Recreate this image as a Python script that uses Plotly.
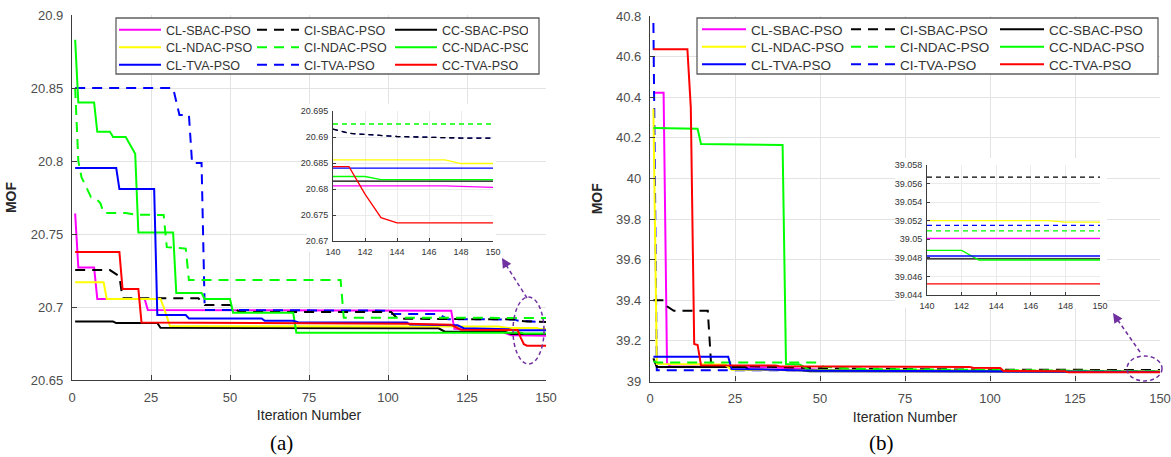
import plotly.graph_objects as go

W, H = 1171, 457

SERIES = ["CL-SBAC-PSO", "CI-SBAC-PSO", "CC-SBAC-PSO",
          "CL-NDAC-PSO", "CI-NDAC-PSO", "CC-NDAC-PSO",
          "CL-TVA-PSO", "CI-TVA-PSO", "CC-TVA-PSO"]

ITER_TICKS = [0, 25, 50, 75, 100, 125, 150]
INSET_X_TICKS = [140, 142, 144, 146, 148, 150]

A_Y_TICKS = [20.65, 20.7, 20.75, 20.8, 20.85, 20.9]
A_Y_TICK_TEXT = ["20.65", "20.7", "20.75", "20.8", "20.85", "20.9"]
A_INSET_Y_TICKS = [20.67, 20.675, 20.68, 20.685, 20.69, 20.695]
A_INSET_Y_TICK_TEXT = ["20.67", "20.675", "20.68", "20.685", "20.69", "20.695"]

B_Y_TICKS = [39.0, 39.2, 39.4, 39.6, 39.8, 40.0, 40.2, 40.4, 40.6, 40.8]
B_Y_TICK_TEXT = ["39", "39.2", "39.4", "39.6", "39.8", "40", "40.2", "40.4", "40.6", "40.8"]
B_INSET_Y_TICKS = [39.044, 39.046, 39.048, 39.05, 39.052, 39.054, 39.056, 39.058]
B_INSET_Y_TICK_TEXT = ["39.044", "39.046", "39.048", "39.05", "39.052", "39.054", "39.056", "39.058"]

# ---------------- Panel (a) data: iteration / MOF breakpoints ----------------
A_CL_SBAC_X = [1, 2, 7, 8, 23, 24, 120, 121, 135, 139, 140, 147, 150]
A_CL_SBAC_Y = [20.764, 20.727, 20.727, 20.7055, 20.7055, 20.698, 20.6975, 20.685, 20.684, 20.6806, 20.6806, 20.6806, 20.6803]
A_CI_SBAC_X = [1, 12, 15, 16, 40, 42, 50, 53, 101, 103, 140, 141, 144, 148, 150]
A_CI_SBAC_Y = [20.7253, 20.7253, 20.721, 20.706, 20.706, 20.7014, 20.7014, 20.6966, 20.6966, 20.692, 20.6915, 20.6907, 20.6901, 20.6898, 20.6898]
A_CC_SBAC_X = [1, 13, 14, 27, 28, 116, 118, 137, 139, 140, 150]
A_CC_SBAC_Y = [20.690, 20.690, 20.689, 20.689, 20.6858, 20.6854, 20.6831, 20.683, 20.6815, 20.6815, 20.6815]
A_CL_NDAC_X = [1, 10, 11, 28, 29, 31, 135, 138, 140, 147, 148, 150]
A_CL_NDAC_Y = [20.7169, 20.7169, 20.7055, 20.7055, 20.700, 20.687, 20.6866, 20.6856, 20.6856, 20.6856, 20.6849, 20.6849]
A_CI_NDAC_X = [1, 2, 3, 6, 8, 9, 10, 17, 20, 29, 30, 36, 37, 85, 86, 140, 150]
A_CI_NDAC_Y = [20.850, 20.800, 20.789, 20.7753, 20.7735, 20.771, 20.7644, 20.7644, 20.7633, 20.763, 20.741, 20.740, 20.7185, 20.7185, 20.6927, 20.6925, 20.6925]
A_CC_NDAC_X = [1, 2, 7, 8, 12, 13, 17, 20, 21, 32, 33, 41, 42, 50, 51, 70, 71, 140, 142, 143, 150]
A_CC_NDAC_Y = [20.883, 20.84, 20.84, 20.82, 20.82, 20.8165, 20.8165, 20.805, 20.751, 20.751, 20.7096, 20.7096, 20.7055, 20.7055, 20.696, 20.696, 20.6824, 20.6824, 20.6824, 20.6818, 20.6818]
A_CL_TVA_X = [1, 14, 15, 26, 27, 36, 37, 60, 61, 70, 72, 106, 107, 122, 124, 138, 140, 150]
A_CL_TVA_Y = [20.7952, 20.7952, 20.7808, 20.7808, 20.6945, 20.6945, 20.6922, 20.6922, 20.6906, 20.6906, 20.6893, 20.6893, 20.688, 20.6875, 20.6855, 20.6848, 20.684, 20.684]
A_CI_TVA_X = [1, 32, 34, 37, 38, 41, 42, 99, 101, 116, 119, 140, 141, 144, 148, 150]
A_CI_TVA_Y = [20.85, 20.85, 20.8315, 20.8315, 20.7986, 20.7986, 20.698, 20.6975, 20.6952, 20.6952, 20.6916, 20.6915, 20.6907, 20.6901, 20.6898, 20.6898]
A_CC_TVA_X = [1, 15, 16, 21, 22, 105, 106, 120, 123, 140, 141, 142, 143, 144, 150]
A_CC_TVA_Y = [20.7377, 20.7377, 20.7123, 20.7123, 20.6893, 20.6888, 20.6885, 20.6878, 20.6845, 20.6843, 20.6843, 20.679, 20.6745, 20.6735, 20.6735]

# ---------------- Panel (b) data ----------------
B_CL_SBAC_X = [1, 4, 5, 6, 35, 50, 100, 140, 150]
B_CL_SBAC_Y = [40.422, 40.422, 39.09, 39.075, 39.07, 39.058, 39.052, 39.0501, 39.0501]
B_CI_SBAC_X = [1, 4, 5, 7, 17, 18, 30, 50, 100, 140, 150]
B_CI_SBAC_Y = [39.40, 39.40, 39.37, 39.348, 39.348, 39.078, 39.075, 39.065, 39.058, 39.0567, 39.0567]
B_CC_SBAC_X = [1, 2, 28, 29, 44, 47, 100, 140, 150]
B_CC_SBAC_Y = [39.114, 39.072, 39.072, 39.059, 39.056, 39.05, 39.049, 39.0479, 39.0479]
B_CL_NDAC_X = [1, 2, 22, 24, 50, 140, 147, 148, 150]
B_CL_NDAC_Y = [40.345, 39.086, 39.084, 39.058, 39.055, 39.052, 39.052, 39.05185, 39.05185]
B_CI_NDAC_X = [1, 2, 49, 51, 60, 100, 140, 150]
B_CI_NDAC_Y = [39.10, 39.094, 39.094, 39.073, 39.062, 39.055, 39.0509, 39.0509]
B_CC_NDAC_X = [1, 14, 15, 39, 40, 44, 47, 100, 140, 142, 143, 150]
B_CC_NDAC_Y = [40.248, 40.245, 40.17, 40.165, 39.086, 39.084, 39.056, 39.052, 39.0488, 39.0488, 39.04777, 39.04777]
B_CL_TVA_X = [1, 23, 24, 50, 100, 140, 150]
B_CL_TVA_Y = [39.122, 39.122, 39.062, 39.053, 39.05, 39.0482, 39.0482]
B_CI_TVA_X = [1, 2, 25, 50, 100, 140, 150]
B_CI_TVA_Y = [40.765, 39.056, 39.056, 39.054, 39.052, 39.0515, 39.0515]
B_CC_TVA_X = [1, 11, 12, 13, 14, 15, 37, 38, 94, 95, 103, 104, 122, 123, 140, 150]
B_CC_TVA_Y = [40.636, 40.636, 40.35, 39.185, 39.18, 39.08, 39.079, 39.075, 39.072, 39.068, 39.067, 39.052, 39.05, 39.0455, 39.0452, 39.0452]

PANEL_A = {
    "CL-SBAC-PSO": (A_CL_SBAC_X, A_CL_SBAC_Y), "CI-SBAC-PSO": (A_CI_SBAC_X, A_CI_SBAC_Y),
    "CC-SBAC-PSO": (A_CC_SBAC_X, A_CC_SBAC_Y), "CL-NDAC-PSO": (A_CL_NDAC_X, A_CL_NDAC_Y),
    "CI-NDAC-PSO": (A_CI_NDAC_X, A_CI_NDAC_Y), "CC-NDAC-PSO": (A_CC_NDAC_X, A_CC_NDAC_Y),
    "CL-TVA-PSO": (A_CL_TVA_X, A_CL_TVA_Y), "CI-TVA-PSO": (A_CI_TVA_X, A_CI_TVA_Y),
    "CC-TVA-PSO": (A_CC_TVA_X, A_CC_TVA_Y),
}
PANEL_B = {
    "CL-SBAC-PSO": (B_CL_SBAC_X, B_CL_SBAC_Y), "CI-SBAC-PSO": (B_CI_SBAC_X, B_CI_SBAC_Y),
    "CC-SBAC-PSO": (B_CC_SBAC_X, B_CC_SBAC_Y), "CL-NDAC-PSO": (B_CL_NDAC_X, B_CL_NDAC_Y),
    "CI-NDAC-PSO": (B_CI_NDAC_X, B_CI_NDAC_Y), "CC-NDAC-PSO": (B_CC_NDAC_X, B_CC_NDAC_Y),
    "CL-TVA-PSO": (B_CL_TVA_X, B_CL_TVA_Y), "CI-TVA-PSO": (B_CI_TVA_X, B_CI_TVA_Y),
    "CC-TVA-PSO": (B_CC_TVA_X, B_CC_TVA_Y),
}

# ---------------- styles ----------------
STYLE = {
    "CL-SBAC-PSO": ("#FF00FF", "solid"), "CI-SBAC-PSO": ("#000000", "dash"), "CC-SBAC-PSO": ("#000000", "solid"),
    "CL-NDAC-PSO": ("#FFFF00", "solid"), "CI-NDAC-PSO": ("#00FF00", "dash"), "CC-NDAC-PSO": ("#00FF00", "solid"),
    "CL-TVA-PSO": ("#0000FF", "solid"), "CI-TVA-PSO": ("#0000FF", "dash"), "CC-TVA-PSO": ("#FF0000", "solid"),
}
DRAW_ORDER = ["CL-SBAC-PSO", "CI-TVA-PSO", "CI-SBAC-PSO", "CC-SBAC-PSO", "CL-NDAC-PSO",
              "CI-NDAC-PSO", "CC-NDAC-PSO", "CL-TVA-PSO", "CC-TVA-PSO"]

FONT = "Liberation Sans, Arial, sans-serif"
TICK_COLOR = "#4d4d4d"
AXIS_COLOR = "#3c3c3c"
GRID_COLOR = "#e3e3e3"
PURPLE = "#7030A0"


def px(x):
    return x / W


def py(y):
    return 1 - y / H


fig = go.Figure()

panels = [
    (PANEL_A, ("x", "y"), ("x5", "y5"), ["legend", "legend2", "legend3"]),
    (PANEL_B, ("x2", "y2"), ("x6", "y6"), ["legend4", "legend5", "legend6"]),
]

for data, (mx, my), (ix, iy), legends in panels:
    for name in DRAW_ORDER:
        xs, ys = data[name]
        color, dash = STYLE[name]
        idx = SERIES.index(name)
        row, col = idx // 3, idx % 3
        fig.add_trace(go.Scatter(
            x=xs, y=ys, mode="lines", name=name, xaxis=mx, yaxis=my,
            line=dict(color=color, width=2, dash="10px,7px" if dash == "dash" else "solid"),
            legend=legends[row], legendrank=col + 1, hoverinfo="skip",
        ))
    for name in DRAW_ORDER:
        xs, ys = data[name]
        color, dash = STYLE[name]
        sx = [x for x in xs if x >= 140]
        sy = [y for x, y in zip(xs, ys) if x >= 140]
        fig.add_trace(go.Scatter(
            x=sx, y=sy, mode="lines", name=name, xaxis=ix, yaxis=iy, showlegend=False,
            line=dict(color=color, width=1.3, dash="5px,4px" if dash == "dash" else "solid"),
            hoverinfo="skip",
        ))

# dummy subplots that only provide an opaque white background behind the insets
fig.add_trace(go.Scatter(x=[None], y=[None], xaxis="x3", yaxis="y3", showlegend=False, hoverinfo="skip"))
fig.add_trace(go.Scatter(x=[None], y=[None], xaxis="x4", yaxis="y4", showlegend=False, hoverinfo="skip"))

main_axis = dict(
    showline=True, linecolor=AXIS_COLOR, linewidth=1.3, ticks="inside", ticklen=5,
    tickcolor=AXIS_COLOR, tickwidth=1, showgrid=True, gridcolor=GRID_COLOR, gridwidth=1,
    zeroline=False, tickfont=dict(family=FONT, size=13, color=TICK_COLOR), ticklabelstandoff=5,
)
inset_axis = dict(
    showline=True, linecolor=AXIS_COLOR, linewidth=1, ticks="inside", ticklen=3,
    tickcolor=AXIS_COLOR, tickwidth=1, showgrid=True, gridcolor="#ebebeb", gridwidth=1,
    zeroline=False, tickfont=dict(family=FONT, size=9, color="#333333"), ticklabelstandoff=2,
)
dummy_axis = dict(showline=False, showgrid=False, showticklabels=False, ticks="",
                  zeroline=False, range=[0, 1], fixedrange=True)

xtitle = dict(text="Iteration Number", font=dict(family=FONT, size=14, color="#262626"), standoff=6)
ytitle = dict(text="MOF", font=dict(family=FONT, size=14, color="#262626", weight="bold"), standoff=10)

layout = dict(
    width=W, height=H, margin=dict(l=0, r=0, t=0, b=0),
    paper_bgcolor="white", plot_bgcolor="white", template="none",
    font=dict(family=FONT),
    xaxis=dict(main_axis, domain=[px(72), px(546)], anchor="y", range=[0, 150],
               tickvals=ITER_TICKS, title=xtitle),
    yaxis=dict(main_axis, domain=[py(380), py(15)], anchor="x", range=[20.65, 20.9],
               tickvals=A_Y_TICKS, ticktext=A_Y_TICK_TEXT, title=ytitle),
    xaxis2=dict(main_axis, domain=[px(650), px(1160)], anchor="y2", range=[0, 150],
                tickvals=ITER_TICKS, title=xtitle),
    yaxis2=dict(main_axis, domain=[py(381.5), py(16)], anchor="x2", range=[39, 40.8],
                tickvals=B_Y_TICKS, ticktext=B_Y_TICK_TEXT, title=ytitle),
    xaxis3=dict(dummy_axis, domain=[px(307), px(496)], anchor="y3"),
    yaxis3=dict(dummy_axis, domain=[py(252), py(104)], anchor="x3"),
    xaxis4=dict(dummy_axis, domain=[px(895), px(1107)], anchor="y4"),
    yaxis4=dict(dummy_axis, domain=[py(308), py(158)], anchor="x4"),
    xaxis5=dict(inset_axis, domain=[px(333), px(493)], anchor="y5", range=[140, 150],
                tickvals=INSET_X_TICKS),
    yaxis5=dict(inset_axis, domain=[py(241), py(111)], anchor="x5", range=[20.67, 20.695],
                tickvals=A_INSET_Y_TICKS, ticktext=A_INSET_Y_TICK_TEXT),
    xaxis6=dict(inset_axis, domain=[px(927), px(1100)], anchor="y6", range=[140, 150],
                tickvals=INSET_X_TICKS),
    yaxis6=dict(inset_axis, domain=[py(295), py(165)], anchor="x6", range=[39.044, 39.058],
                tickvals=B_INSET_Y_TICKS, ticktext=B_INSET_Y_TICK_TEXT),
)

# legends: one horizontal legend per row, three entries each
legend_rows_a = [30, 47.5, 65]
legend_rows_b = [29.5, 47, 64.5]
for i, yrow in enumerate(legend_rows_a):
    key = ["legend", "legend2", "legend3"][i]
    layout[key] = dict(x=px(114), xanchor="left", y=py(yrow), yanchor="middle",
                       orientation="h", entrywidth=81, entrywidthmode="pixels", itemwidth=42,
                       bgcolor="rgba(0,0,0,0)", borderwidth=0, tracegroupgap=0,
                       font=dict(family=FONT, size=12.5, color="#333333"))
for i, yrow in enumerate(legend_rows_b):
    key = ["legend4", "legend5", "legend6"][i]
    layout[key] = dict(x=px(697), xanchor="left", y=py(yrow), yanchor="middle",
                       orientation="h", entrywidth=90, entrywidthmode="pixels", itemwidth=44,
                       bgcolor="rgba(0,0,0,0)", borderwidth=0, tracegroupgap=0,
                       font=dict(family=FONT, size=13.5, color="#333333"))

shapes = [
    dict(type="rect", xref="paper", yref="paper", x0=px(116), x1=px(539), y0=py(74), y1=py(18),
         fillcolor="white", line=dict(color="#5f5f5f", width=1.3), layer="above"),
    dict(type="rect", xref="paper", yref="paper", x0=px(697), x1=px(1158), y0=py(74), y1=py(18),
         fillcolor="white", line=dict(color="#5f5f5f", width=1.3), layer="above"),
    dict(type="circle", xref="paper", yref="paper", x0=px(513), x1=px(544), y0=py(364), y1=py(297),
         line=dict(color=PURPLE, width=1.5, dash="4px,3px"), layer="above"),
    dict(type="circle", xref="paper", yref="paper", x0=px(1127), x1=px(1162), y0=py(381), y1=py(356),
         line=dict(color=PURPLE, width=1.5, dash="4px,3px"), layer="above"),
    dict(type="line", xref="paper", yref="paper", x0=px(527), y0=py(298), x1=px(506), y1=py(265),
         line=dict(color=PURPLE, width=1.5, dash="4px,3px"), layer="above"),
    dict(type="line", xref="paper", yref="paper", x0=px(1140), y0=py(352), x1=px(1117), y1=py(319),
         line=dict(color=PURPLE, width=1.5, dash="4px,3px"), layer="above"),
]
layout["shapes"] = shapes

annotations = [
    dict(text="(a)", x=px(281), y=py(443), xref="paper", yref="paper", showarrow=False,
         xanchor="center", yanchor="middle",
         font=dict(family="Liberation Serif, Times New Roman, serif", size=21, color="black")),
    dict(text="(b)", x=px(881), y=py(443), xref="paper", yref="paper", showarrow=False,
         xanchor="center", yanchor="middle",
         font=dict(family="Liberation Serif, Times New Roman, serif", size=21, color="black")),
    dict(text="", x=px(502), y=py(258), xref="paper", yref="paper", showarrow=True,
         ax=6, ay=10, arrowhead=2, arrowsize=1.3, arrowwidth=1.5, arrowcolor=PURPLE),
    dict(text="", x=px(1113), y=py(313), xref="paper", yref="paper", showarrow=True,
         ax=6, ay=9, arrowhead=2, arrowsize=1.3, arrowwidth=1.5, arrowcolor=PURPLE),
]
layout["annotations"] = annotations

fig.update_layout(**layout)
fig.write_html("out.html", config={"displayModeBar": False},
               post_script="document.body.style.margin='0';document.body.style.padding='0';")
